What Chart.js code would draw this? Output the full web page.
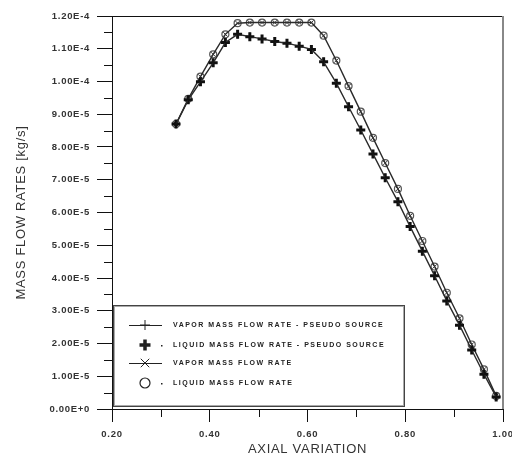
<!DOCTYPE html>
<html>
<head>
<meta charset="utf-8">
<script src="https://cdn.jsdelivr.net/npm/chart.js@4/dist/chart.umd.min.js"></script>
<style>
  html, body { margin: 0; padding: 0; background: #fff; }
  canvas { display: block; }
</style>
</head>
<body>
<canvas id="flowChart" width="512" height="456"></canvas>
<script>
// axial stations and mass flow rates [kg/s]
const axialPos = [0.331, 0.356, 0.381, 0.407, 0.432, 0.457, 0.482, 0.507, 0.533, 0.558,
  0.583, 0.608, 0.633, 0.659, 0.684, 0.709, 0.734, 0.759, 0.785, 0.810,
  0.835, 0.860, 0.885, 0.911, 0.936, 0.961, 0.986];
const pseudoSourceFlow = [8.70e-5, 9.44e-5, 9.99e-5, 10.57e-5, 11.19e-5, 11.44e-5, 11.37e-5, 11.30e-5, 11.22e-5, 11.17e-5,
  11.08e-5, 10.98e-5, 10.60e-5, 9.95e-5, 9.23e-5, 8.52e-5, 7.79e-5, 7.06e-5, 6.33e-5, 5.57e-5,
  4.82e-5, 4.07e-5, 3.30e-5, 2.56e-5, 1.80e-5, 1.06e-5, 0.37e-5];
const plainFlow = [8.70e-5, 9.47e-5, 10.15e-5, 10.83e-5, 11.44e-5, 11.78e-5, 11.80e-5, 11.80e-5, 11.80e-5, 11.80e-5,
  11.80e-5, 11.80e-5, 11.40e-5, 10.64e-5, 9.86e-5, 9.08e-5, 8.28e-5, 7.51e-5, 6.72e-5, 5.90e-5,
  5.13e-5, 4.35e-5, 3.55e-5, 2.77e-5, 1.97e-5, 1.21e-5, 0.40e-5];
const legendLabels = [
  'VAPOR MASS FLOW RATE - PSEUDO SOURCE',
  'LIQUID MASS FLOW RATE - PSEUDO SOURCE',
  'VAPOR MASS FLOW RATE',
  'LIQUID MASS FLOW RATE',
];

const FONT = '"Liberation Sans", Arial, sans-serif';
const pts = (ys) => axialPos.map((x, i) => ({ x, y: ys[i] }));

const datasets = [
  { label: legendLabels[0], data: pts(pseudoSourceFlow), showLine: true, borderColor: '#2a2a2a', borderWidth: 1.4,
    pointStyle: 'cross', pointRadius: 4, pointBorderWidth: 1, pointBorderColor: '#111',
    legend: { line: true, radius: 5, width: 1 } },
  { label: legendLabels[1], data: pts(pseudoSourceFlow), showLine: false,
    pointStyle: 'cross', pointRadius: 4.5, pointBorderWidth: 3, pointBorderColor: '#111',
    legend: { line: false, radius: 5.5, width: 3.5 } },
  { label: legendLabels[2], data: pts(plainFlow), showLine: true, borderColor: '#2a2a2a', borderWidth: 1.4,
    pointStyle: 'crossRot', pointRadius: 3, pointBorderWidth: 1, pointBorderColor: '#333',
    legend: { line: true, radius: 6, width: 1 } },
  { label: legendLabels[3], data: pts(plainFlow), showLine: false,
    pointStyle: 'circle', pointRadius: 3.5, pointBorderWidth: 1.2, pointBorderColor: '#555', pointBackgroundColor: '#fff',
    legend: { line: false, radius: 5, width: 1.2 } },
];

const framePlugin = {
  id: 'frame',
  beforeDraw(chart) {
    chart.ctx.letterSpacing = '0.7px';
  },
  afterDraw(chart) {
    const { ctx, chartArea: a, scales: { x, y } } = chart;
    ctx.save();
    ctx.letterSpacing = '0px';

    // minor ticks halfway between the labelled ones
    ctx.strokeStyle = '#111';
    ctx.lineWidth = 1;
    ctx.beginPath();
    for (let i = 1; i < y.ticks.length; i++) {
      const py = Math.round((y.getPixelForTick(i - 1) + y.getPixelForTick(i)) / 2) + 0.5;
      ctx.moveTo(a.left - 8, py);
      ctx.lineTo(a.left, py);
    }
    for (let i = 1; i < x.ticks.length; i++) {
      const px = Math.round((x.getPixelForTick(i - 1) + x.getPixelForTick(i)) / 2) + 0.5;
      ctx.moveTo(px, a.bottom);
      ctx.lineTo(px, a.bottom + 8);
    }
    ctx.stroke();

    // top and right edges of the plot frame
    ctx.beginPath();
    ctx.moveTo(a.left, Math.round(a.top) + 0.5);
    ctx.lineTo(a.right, Math.round(a.top) + 0.5);
    ctx.stroke();
    ctx.strokeStyle = '#888';
    ctx.lineWidth = 2;
    ctx.beginPath();
    ctx.moveTo(Math.round(a.right), a.top);
    ctx.lineTo(Math.round(a.right), a.bottom);
    ctx.stroke();

    // legend box in the lower left corner
    const bx = Math.round(a.left) + 1;
    const br = Math.round(x.getPixelForValue(0.8)) - 1;
    const bb = Math.round(a.bottom) - 3;
    const bt = bb - 101;
    ctx.strokeStyle = '#aaa';
    ctx.lineWidth = 1;
    ctx.strokeRect(bx + 1.5, bt + 1.5, br - bx - 2, bb - bt - 2);
    ctx.strokeStyle = '#444';
    ctx.strokeRect(bx + 0.5, bt + 0.5, br - bx, bb - bt);

    const rows = [20, 40, 58, 78];
    ctx.font = 'bold 7px ' + FONT;
    ctx.textBaseline = 'middle';
    datasets.forEach((ds, i) => {
      const cy = bt + rows[i];
      const cx = bx + 32;
      ctx.strokeStyle = '#222';
      ctx.fillStyle = '#222';
      if (ds.legend.line) {
        ctx.lineWidth = 1.2;
        ctx.beginPath();
        ctx.moveTo(bx + 16, cy + 0.5);
        ctx.lineTo(bx + 49, cy + 0.5);
        ctx.stroke();
      } else {
        ctx.fillRect(bx + 48, cy, 1.5, 1.5);
      }
      ctx.lineWidth = ds.legend.width;
      ctx.fillStyle = '#fff';
      Chart.helpers.drawPoint(ctx, { pointStyle: ds.pointStyle, radius: ds.legend.radius, borderWidth: ds.legend.width, rotation: 0 }, cx, cy);
      ctx.fillStyle = '#222';
      ctx.letterSpacing = '1.5px';
      ctx.fillText(ds.label, bx + 60, cy + 0.5);
      ctx.letterSpacing = '0px';
    });
    ctx.restore();
  },
};

new Chart(document.getElementById('flowChart'), {
  type: 'scatter',
  data: { datasets },
  options: {
    responsive: false,
    animation: false,
    layout: { padding: { top: 16, right: 9, left: 0, bottom: 0 } },
    plugins: { legend: { display: false }, tooltip: { enabled: false } },
    scales: {
      x: {
        type: 'linear', min: 0.2, max: 1.0,
        afterFit: (s) => { s.height = 47; s.paddingLeft = 0; s.paddingRight = 0; },
        border: { color: '#111', width: 1 },
        grid: { drawOnChartArea: false, tickLength: 13, tickColor: '#111' },
        ticks: { stepSize: 0.2, padding: 7, color: '#333', font: { family: FONT, size: 9.5, weight: 'bold' },
          callback: (v) => v.toFixed(2) },
        title: { display: true, text: 'AXIAL VARIATION', color: '#333', padding: { top: 0, bottom: 0 },
          font: { family: FONT, size: 13, lineHeight: 1 } },
      },
      y: {
        type: 'linear', min: 0, max: 1.2e-4,
        afterFit: (s) => { s.width = 112; },
        border: { color: '#111', width: 1 },
        grid: { drawOnChartArea: false, tickLength: 15, tickColor: '#111' },
        ticks: { stepSize: 1e-5, padding: 7, color: '#333', font: { family: FONT, size: 9.5, weight: 'bold' },
          callback: (v) => v.toExponential(2).toUpperCase() },
        title: { display: true, text: 'MASS FLOW RATES [kg/s]', color: '#333', padding: { top: 15, bottom: 0 },
          font: { family: FONT, size: 13, lineHeight: 1 } },
      },
    },
  },
  plugins: [framePlugin],
});
</script>
</body>
</html>
